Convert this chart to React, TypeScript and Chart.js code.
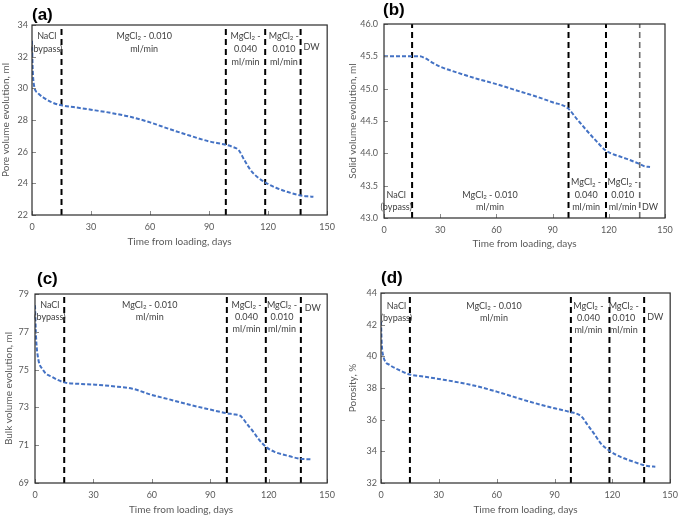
import React, { useEffect, useRef } from 'react';
import { Chart, registerables } from 'chart.js';

Chart.register(...registerables);

// ---------- data ----------
const xTickValues = [0, 30, 60, 90, 120, 150];
const phaseBoundaries = [15, 98.5, 118.5, 136.5];
const phaseLabels = ['NaCl|(bypass)', 'MgCl_2 - 0.010|ml/min', 'MgCl_2 -|0.040|ml/min', 'MgCl_2 -|0.010|ml/min', 'DW'];

const poreDays = [0, 0.3, 1, 3, 6, 10, 15, 22, 30, 40, 50, 60, 70, 80, 90, 98, 102, 105, 108, 111, 115, 119, 124, 130, 136, 140, 143];
const poreValues = [33.0, 31.4, 30.2, 29.7, 29.4, 29.12, 28.93, 28.8, 28.65, 28.45, 28.2, 27.85, 27.42, 27.02, 26.65, 26.45, 26.3, 26.1, 25.45, 24.85, 24.35, 24.02, 23.72, 23.45, 23.25, 23.18, 23.15];
const poreTicks = [22, 24, 26, 28, 30, 32, 34];

const solidDays = [0, 5, 10, 15, 19, 22, 26, 30, 40, 50, 60, 70, 80, 90, 98, 103, 108, 113, 118.5, 122, 126, 130, 136, 139, 142];
const solidValues = [45.5, 45.5, 45.5, 45.5, 45.5, 45.47, 45.4, 45.34, 45.24, 45.15, 45.07, 44.98, 44.89, 44.79, 44.7, 44.53, 44.36, 44.2, 44.04, 43.99, 43.95, 43.91, 43.84, 43.8, 43.79];
const solidTicks = [43.0, 43.5, 44.0, 44.5, 45.0, 45.5, 46.0];

const bulkDays = [0, 0.5, 1.3, 4, 9, 15.5, 22, 31, 40, 50, 60, 68, 77, 88, 98.5, 103, 105.5, 109, 112, 115, 118.7, 123, 129, 136.4, 140, 142.3];
const bulkValues = [78.4, 76.8, 75.8, 75.0, 74.6, 74.31, 74.25, 74.2, 74.12, 73.99, 73.66, 73.45, 73.2, 72.93, 72.69, 72.62, 72.55, 72.1, 71.72, 71.3, 70.9, 70.65, 70.46, 70.28, 70.26, 70.25];
const bulkTicks = [69, 71, 73, 75, 77, 79];

const porosityDays = [0, 0.3, 1, 4.6, 10, 15, 22, 30, 47, 60, 77, 90, 97.5, 104, 107, 111, 114, 118, 122, 126, 131, 136, 139, 142.3];
const porosityValues = [42.2, 41.0, 40.1, 39.45, 39.1, 38.85, 38.72, 38.57, 38.19, 37.77, 37.14, 36.72, 36.5, 36.2, 35.7, 35.03, 34.5, 34.08, 33.78, 33.56, 33.34, 33.14, 33.06, 33.03];
const porosityTicks = [32, 34, 36, 38, 40, 42, 44];

// ---------- panel layout ----------
type Panel = {
  letter: string; left: number; top: number; width: number; height: number;
  days: number[]; values: number[]; yTicks: number[]; decimals: number; yTitle: string;
  pad: { left: number; top: number; right: number; bottom: number };
  yWidth: number; xHeight: number; yTitlePad: number; yTickPad: number; xTickPad: number;
  labelXs: number[]; anchor: 'top' | 'bottom'; firstOffset: number; spacing: number; dwOffset: number;
  grayLast: boolean; letterX: number; letterY: number;
};

const panels: Panel[] = [
  {
    letter: '(a)', left: 0, top: 0, width: 342, height: 258,
    days: poreDays, values: poreValues, yTicks: poreTicks, decimals: 0, yTitle: 'Pore volume evolution, ml',
    pad: { left: 0, top: 25, right: 13, bottom: 10 }, yWidth: 32, xHeight: 33, yTitlePad: 0, yTickPad: 4, xTickPad: 7,
    labelXs: [7.5, 57, 108.5, 128, 142], anchor: 'top', firstOffset: 11, spacing: 13, dwOffset: 22,
    grayLast: false, letterX: 32, letterY: 15,
  },
  {
    letter: '(b)', left: 342, top: 0, width: 343, height: 258,
    days: solidDays, values: solidValues, yTicks: solidTicks, decimals: 1, yTitle: 'Solid volume evolution, ml',
    pad: { left: 0, top: 24, right: 20, bottom: 8 }, yWidth: 42, xHeight: 32, yTitlePad: 5, yTickPad: 6, xTickPad: 7,
    labelXs: [6.5, 56.6, 107.9, 127.4, 142], anchor: 'bottom', firstOffset: 10.5, spacing: 12.5, dwOffset: 10.5,
    grayLast: true, letterX: 41, letterY: 10,
  },
  {
    letter: '(c)', left: 0, top: 258, width: 342, height: 258,
    days: bulkDays, values: bulkValues, yTicks: bulkTicks, decimals: 0, yTitle: 'Bulk volume evolution, ml',
    pad: { left: 0, top: 36, right: 10, bottom: 0 }, yWidth: 35, xHeight: 33, yTitlePad: 3, yTickPad: 6, xTickPad: 7,
    labelXs: [7.6, 58.9, 108.6, 126.8, 142.6], anchor: 'top', firstOffset: 11, spacing: 12, dwOffset: 13.7,
    grayLast: false, letterX: 37, letterY: 21,
  },
  {
    letter: '(d)', left: 342, top: 258, width: 343, height: 258,
    days: porosityDays, values: porosityValues, yTicks: porosityTicks, decimals: 0, yTitle: 'Porosity, %',
    pad: { left: 0, top: 35, right: 8, bottom: 0 }, yWidth: 39, xHeight: 33, yTitlePad: 5, yTickPad: 4, xTickPad: 7,
    labelXs: [8, 58.6, 107.6, 125.9, 142.3], anchor: 'top', firstOffset: 13, spacing: 12, dwOffset: 24,
    grayLast: false, letterX: 39, letterY: 20,
  },
];

const FONT = 'Lato, "Noto Sans", sans-serif';

function drawRich(ctx: CanvasRenderingContext2D, text: string, cx: number, cy: number, size: number) {
  const segs = text.split(/(_\d)/).filter((s) => s.length > 0);
  const subSize = size * 0.68;
  let total = 0;
  const widths = segs.map((s) => {
    const sub = s.startsWith('_');
    ctx.font = `${sub ? subSize : size}px ${FONT}`;
    const w = ctx.measureText(sub ? s.slice(1) : s).width;
    total += w;
    return w;
  });
  let x = cx - total / 2;
  ctx.textAlign = 'left';
  ctx.textBaseline = 'middle';
  segs.forEach((s, i) => {
    const sub = s.startsWith('_');
    ctx.font = `${sub ? subSize : size}px ${FONT}`;
    ctx.fillText(sub ? s.slice(1) : s, x, sub ? cy + size * 0.28 : cy);
    x += widths[i];
  });
}

function PanelChart({ p }: { p: Panel }) {
  const ref = useRef<HTMLCanvasElement>(null);
  useEffect(() => {
    if (!ref.current) return;
    const yMin = p.yTicks[0];
    const yMax = p.yTicks[p.yTicks.length - 1];
    const curve = p.days.map((d, i) => ({ x: d, y: p.values[i] }));
    const phaseSets = phaseBoundaries.map((b, i) => {
      const gray = p.grayLast && i === phaseBoundaries.length - 1;
      return {
        data: [{ x: b, y: yMin }, { x: b, y: yMax }],
        borderColor: gray ? '#6e6e6e' : '#000000',
        borderWidth: gray ? 1.6 : 2,
        borderDash: [6, 4],
        pointRadius: 0,
        tension: 0,
      };
    });

    const overlay = {
      id: 'overlay' + p.letter,
      afterDraw(chart: any) {
        const ctx = chart.ctx as CanvasRenderingContext2D;
        const { left, right, top, bottom } = chart.chartArea;
        const xs = chart.scales.x;
        const ys = chart.scales.y;
        ctx.save();
        // inner tick marks
        ctx.strokeStyle = '#8a8a8a';
        ctx.lineWidth = 1;
        xTickValues.forEach((v) => {
          const px = Math.round(xs.getPixelForValue(v)) + 0.5;
          ctx.beginPath();
          ctx.moveTo(px, bottom);
          ctx.lineTo(px, bottom - 4);
          ctx.stroke();
        });
        p.yTicks.forEach((v) => {
          const py = Math.round(ys.getPixelForValue(v)) + 0.5;
          ctx.beginPath();
          ctx.moveTo(left, py);
          ctx.lineTo(left + 4, py);
          ctx.stroke();
        });
        // plot border
        ctx.strokeStyle = '#2b2b2b';
        ctx.lineWidth = 1.2;
        ctx.strokeRect(left, top, right - left, bottom - top);
        // phase labels
        ctx.fillStyle = '#404040';
        phaseLabels.forEach((lab, i) => {
          const lines = lab.split('|');
          const cx = xs.getPixelForValue(p.labelXs[i]);
          const isDW = i === phaseLabels.length - 1;
          lines.forEach((ln, j) => {
            let cy: number;
            if (p.anchor === 'top') {
              cy = isDW ? top + p.dwOffset : top + p.firstOffset + j * p.spacing;
            } else {
              cy = isDW ? bottom - p.dwOffset : bottom - p.firstOffset - (lines.length - 1 - j) * p.spacing;
            }
            drawRich(ctx, ln, cx, cy, 9);
          });
        });
        // panel letter
        ctx.fillStyle = '#000000';
        ctx.font = 'bold 17px "Liberation Sans", Arial, sans-serif';
        ctx.textAlign = 'left';
        ctx.textBaseline = 'middle';
        ctx.fillText(p.letter, p.letterX, p.letterY);
        ctx.restore();
      },
    };

    const chart = new Chart(ref.current, {
      type: 'line',
      data: {
        datasets: [
          {
            data: curve,
            borderColor: '#4472C4',
            borderWidth: 2,
            borderDash: [4, 2],
            pointRadius: 0,
            cubicInterpolationMode: 'monotone',
          } as any,
          ...phaseSets,
        ],
      },
      options: {
        animation: false,
        responsive: false,
        maintainAspectRatio: false,
        layout: { padding: p.pad },
        plugins: { legend: { display: false }, tooltip: { enabled: false } },
        scales: {
          x: {
            type: 'linear',
            min: 0,
            max: 150,
            afterBuildTicks: (s: any) => { s.ticks = xTickValues.map((v) => ({ value: v })); },
            afterFit: (s: any) => { s.height = p.xHeight; },
            grid: { display: false, drawTicks: false },
            border: { display: false },
            ticks: {
              padding: p.xTickPad,
              color: '#595959',
              font: { family: FONT, size: 9 },
              maxRotation: 0,
              autoSkip: false,
            },
            title: {
              display: true,
              text: 'Time from loading, days',
              color: '#595959',
              font: { family: FONT, size: 10 },
              padding: { top: 0, bottom: 0 },
            },
          },
          y: {
            type: 'linear',
            min: yMin,
            max: yMax,
            afterBuildTicks: (s: any) => { s.ticks = p.yTicks.map((v) => ({ value: v })); },
            afterFit: (s: any) => { s.width = p.yWidth; },
            grid: { display: false, drawTicks: false },
            border: { display: false },
            ticks: {
              padding: p.yTickPad,
              color: '#595959',
              font: { family: FONT, size: 9 },
              callback: (v: any) => Number(v).toFixed(p.decimals),
            },
            title: {
              display: true,
              text: p.yTitle,
              color: '#595959',
              font: { family: FONT, size: 10 },
              padding: { top: p.yTitlePad, bottom: 0 },
            },
          },
        },
      },
      plugins: [overlay],
    });
    return () => chart.destroy();
  }, [p]);
  return (
    <canvas
      ref={ref}
      width={p.width}
      height={p.height}
      style={{ position: 'absolute', left: p.left, top: p.top, width: p.width, height: p.height }}
    />
  );
}

export default function App() {
  return (
    <div style={{ position: 'fixed', left: 0, top: 0, width: 685, height: 516, background: '#ffffff' }}>
      {panels.map((p) => (
        <PanelChart key={p.letter} p={p} />
      ))}
    </div>
  );
}
